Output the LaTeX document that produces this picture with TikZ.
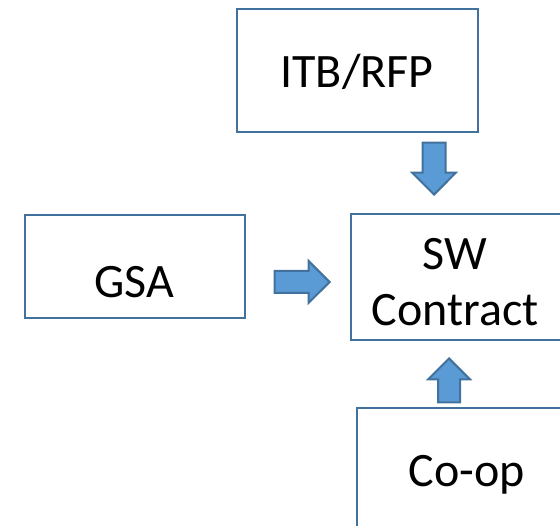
\documentclass[tikz,border=0pt]{standalone}
\usepackage{fontspec}
\setmainfont{Carlito}
\usetikzlibrary{shapes.arrows}
\definecolor{edgeblue}{HTML}{41719C}
\definecolor{arrowfill}{HTML}{5B9BD5}
\begin{document}
\begin{tikzpicture}[x=1pt,y=-1pt,
  box/.style={draw=edgeblue,line width=2.2pt,fill=white,inner sep=0pt},
  label/.style={font=\fontsize{48}{58}\selectfont,inner sep=0pt,anchor=base},
  blockarrow/.style={single arrow,draw=edgeblue,fill=arrowfill,line width=2pt,anchor=tip}]
\useasboundingbox (0,0) rectangle (560,526);
% boxes
\node[box,minimum width=241pt,minimum height=123pt] (itb) at (357.5,70.5) {};
\node[box,minimum width=220pt,minimum height=103pt] (gsa) at (135,266.5) {};
\node[box,minimum width=212pt,minimum height=126pt] (sw) at (457,277) {};
\node[box,minimum width=223pt,minimum height=152pt] (coop) at (468.5,484) {};
% texts
\node[label] (itbtext) at (357,88) {ITB/RFP};
\node[label] (gsatext) at (134.5,298) {GSA};
\node[label] (swtext) at (455,270) {SW};
\node[label] (contracttext) at (455,326) {Contract};
\node[label] (cooptext) at (467,487) {Co-op};
% block arrows
\node[blockarrow,inner sep=10.5pt,minimum height=52pt,single arrow head extend=10.5pt,shape border rotate=270] (down) at (434,196) {};
\node[blockarrow,inner sep=10pt,minimum height=55pt,single arrow head extend=10pt] (right) at (331,282) {};
\node[blockarrow,inner sep=10pt,minimum height=44pt,single arrow head extend=10pt,shape border rotate=90] (up) at (449,357) {};
\end{tikzpicture}
\end{document}
